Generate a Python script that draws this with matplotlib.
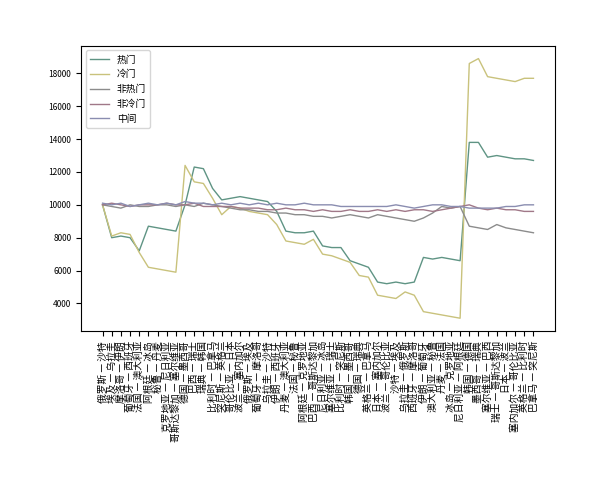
import matplotlib
matplotlib.use("Agg")
import matplotlib.pyplot as plt

plt.rcParams['font.family'] = ['Noto Sans CJK SC', 'DejaVu Sans']

matches = ["俄罗斯 — 沙特","埃及 — 乌拉圭","摩洛哥 — 伊朗","葡萄牙 — 西班牙","法国 — 澳大利亚","阿根廷 — 冰岛",
"秘鲁 — 丹麦","克罗地亚 — 尼日利亚","哥斯达黎加 — 塞尔维亚","德国 — 墨西哥","巴西 — 瑞士","瑞典 — 韩国",
"比利时 — 巴拿马","突尼斯 — 英格兰","哥伦比亚 — 日本","波兰 — 塞内加尔","俄罗斯 — 埃及","葡萄牙 — 摩洛哥",
"乌拉圭 — 沙特","伊朗 — 西班牙","丹麦 — 澳大利亚","法国 — 秘鲁","阿根廷 — 克罗地亚","巴西 — 哥斯达黎加",
"尼日利亚 — 冰岛","塞尔维亚 — 瑞士","比利时 — 突尼斯","韩国 — 墨西哥","德国 — 瑞典","英格兰 — 巴拿马",
"日本 — 塞内加尔","波兰 — 哥伦比亚","沙特 — 埃及","乌拉圭 — 俄罗斯","西班牙 — 摩洛哥","伊朗 — 葡萄牙",
"澳大利亚 — 秘鲁","丹麦 — 法国","冰岛 — 克罗地亚","尼日利亚 — 阿根廷","韩国 — 德国","墨西哥 — 瑞典",
"塞尔维亚 — 巴西","瑞士 — 哥斯达黎加","日本 — 波兰","塞内加尔 — 哥伦比亚","英格兰 — 比利时","巴拿马 — 突尼斯"]

hot = [10000,8000,8100,8000,7200,8700,8600,8500,8400,10000,12300,12200,11000,10300,10400,10500,10400,10300,10200,9600,
       8400,8300,8300,8400,7500,7400,7400,6600,6400,6200,5300,5200,5300,5200,5300,6800,6700,6800,6700,6600,
       13800,13800,12900,13000,12900,12800,12800,12700]
cold = [10000,8100,8300,8200,7100,6200,6100,6000,5900,12400,11400,11300,10400,9400,9900,9800,9600,9500,9400,8800,
        7800,7700,7600,7900,7000,6900,6700,6500,5700,5600,4500,4400,4300,4700,4500,3500,3400,3300,3200,3100,
        18600,18900,17800,17700,17600,17500,17700,17700]
nonhot = [10000,9900,9800,10000,9900,9900,10000,10000,9900,10000,9900,10100,10000,9900,9800,9700,9700,9600,9600,9500,
          9500,9400,9400,9300,9300,9200,9300,9400,9300,9200,9400,9300,9200,9100,9000,9200,9500,9900,9800,9900,
          8700,8600,8500,8800,8600,8500,8400,8300]
noncold = [10000,10100,10000,9900,10000,10000,10000,10100,10000,10000,10100,9900,9900,9900,9900,9800,9800,9800,9700,9700,
           9800,9700,9700,9600,9700,9600,9600,9700,9600,9600,9700,9600,9700,9600,9700,9700,9600,9700,9800,9900,
           10000,9800,9700,9800,9700,9700,9600,9600]
mid = [10100,10000,10100,9900,10000,10100,10000,10100,10000,10200,10100,10100,10000,10100,10000,10100,10000,10100,10000,10100,
       10000,10000,10100,10000,10000,10000,9900,9900,9900,9900,9900,9900,10000,9900,9800,9900,10000,10000,9900,9900,
       9800,9800,9800,9800,9900,9900,10000,10000]

fig, ax = plt.subplots(figsize=(6, 4.8), dpi=100)
fig.subplots_adjust(left=0.135, right=0.925, top=0.905, bottom=0.31)
x = range(len(matches))
ax.plot(x, hot, color="#5f9484", lw=1, label="热门")
ax.plot(x, cold, color="#c9c27c", lw=1, label="冷门")
ax.plot(x, nonhot, color="#8c8c8c", lw=1, label="非热门")
ax.plot(x, noncold, color="#a07888", lw=1, label="非冷门")
ax.plot(x, mid, color="#8a8db0", lw=1, label="中间")
ax.set_xticks(list(x))
ax.set_xticklabels(matches, rotation=90, fontsize=7)
ax.tick_params(axis='y', labelsize=6)
ax.set_yticks(range(4000, 18001, 2000))
ax.legend(loc="upper left", fontsize=7, frameon=True)
fig.savefig("out.png")
